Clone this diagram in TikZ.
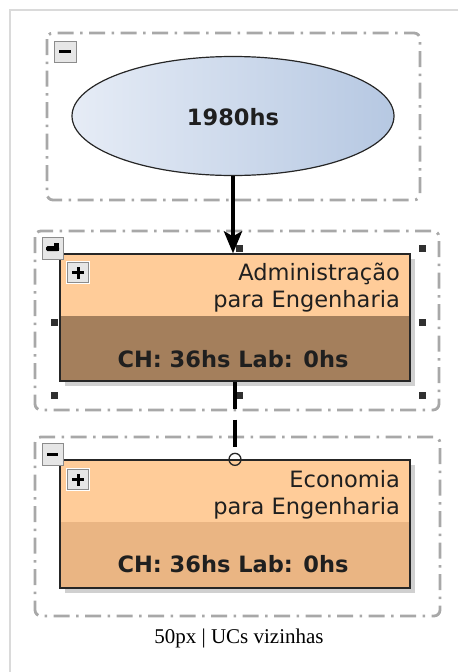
\documentclass[tikz,border=0pt]{standalone}
\usepackage{fontspec}
\setmainfont{DejaVu Sans}
\newfontfamily\capfont{Liberation Serif}
\usetikzlibrary{arrows.meta,shapes.geometric,calc}
\definecolor{peach}{HTML}{FFCC99}
\definecolor{brownA}{HTML}{A47F5C}
\definecolor{tanB}{HTML}{EAB583}
\definecolor{ellL}{HTML}{E6ECF6}
\definecolor{ellR}{HTML}{B6C8E2}
\definecolor{grpcol}{HTML}{A8A8A8}
\definecolor{framecol}{HTML}{DADADA}
\definecolor{btnfill}{HTML}{E6E6E6}
\definecolor{btnedge}{HTML}{8C8C8C}
\definecolor{shadowcol}{HTML}{D0D0D0}
\definecolor{edgecol}{HTML}{262626}
\definecolor{handlecol}{HTML}{303030}
\begin{document}
\begin{tikzpicture}[x=1pt,y=-1pt,
  grp/.style={draw=grpcol, line width=2.8pt, dash pattern=on 16pt off 6.5pt on 2.5pt off 6.5pt, rounded corners=6pt},
  ucbox/.style={draw=edgecol, line width=1.3pt, minimum width=350pt, inner sep=0pt},
  big/.style={font=\fontsize{22.5}{27}\selectfont, inner sep=0pt, text=black!88},
  bigb/.style={font=\bfseries\fontsize{22.5}{27}\selectfont, inner sep=0pt, text=black!88},
  btn/.style={fill=btnfill, draw=btnedge, line width=1pt},
  handle/.style={fill=handlecol},
  conn/.style={line width=4.5pt, black}
]
\useasboundingbox (0,0) rectangle (458,672);
% outer frame
\draw[framecol, line width=1.5pt] (458,10) -- (10,10) -- (10,672);

% groups
\draw[grp] (47,33) rectangle (420,200);
\draw[grp] (35,231) rectangle (439,410);
\draw[grp] (35,437) rectangle (440,616);

% selection handles of group 2
\foreach \hx in {54.5,239,422.5}
  \foreach \hy in {248.5,322,395}
    \fill[handle] (\hx-3.5,\hy-3.5) rectangle (\hx+3.5,\hy+3.5);

% ellipse
\node[ellipse, draw=edgecol, line width=1.2pt, left color=ellL, right color=ellR,
      minimum width=322pt, minimum height=119pt, inner sep=0pt] (ell) at (233,116) {};
\node[bigb, anchor=base] (t0) at (233,125) {1980hs};

% box 1
\fill[shadowcol] (65,259) rectangle (415,386);
\fill[peach] (60,254) rectangle (410,316);
\fill[brownA] (60,316) rectangle (410,381);
\node[ucbox, minimum height=127pt] (b1) at (235,317.5) {};
\node[big, anchor=base east] (t1a) at (400,280) {Administração};
\node[big, anchor=base east] (t1b) at (400,307) {para Engenharia};
\node[bigb, anchor=base] (t1c) at (233,367) {CH: 36hs Lab: 0hs};

% box 2
\fill[shadowcol] (65,465) rectangle (415,593);
\fill[peach] (60,460) rectangle (410,522);
\fill[tanB] (60,522) rectangle (410,588);
\node[ucbox, minimum height=128pt] (b2) at (235,524) {};
\node[big, anchor=base east] (t2a) at (400,487) {Economia};
\node[big, anchor=base east] (t2b) at (400,514) {para Engenharia};
\node[bigb, anchor=base] (t2c) at (233,572) {CH: 36hs Lab: 0hs};

% connectors
\draw[conn, -{Stealth[length=22pt,width=18pt,inset=5pt]}] (ell.south) -- (ell.south |- b1.north);
\draw[conn, line width=4pt, dash pattern=on 27pt off 11pt, shorten >=6pt] (b1.south) -- (b2.north);
\draw[edgecol, line width=1.3pt] (b2.north) circle (6pt);

% group buttons
\draw[btn] (54,41) rectangle (76,62);
\fill[black] (59,50) rectangle (71,53);
\draw[btn] (42,237) rectangle (63,259);
\fill[black, rounded corners=1.5pt] (46,246) rectangle (59,251);
\fill[black] (54,243) rectangle (59,251);
\draw[btn] (42,443) rectangle (63,465);
\fill[black] (47,452.5) rectangle (58,455.5);

% plus buttons in boxes
\foreach \py in {261,468} {
  \fill[white] (66,\py) rectangle (90,\py+23);
  \draw[btn] (67.5,\py+1.5) rectangle (88.5,\py+21.5);
  \fill[black] (72,\py+10) rectangle (84,\py+13);
  \fill[black] (76.5,\py+5.5) rectangle (79.5,\py+17.5);
}

% caption
\node[font=\capfont\fontsize{21}{25}\selectfont, anchor=base, inner sep=0pt] (cap) at (239,643) {50px | UCs vizinhas};
\end{tikzpicture}
\end{document}
